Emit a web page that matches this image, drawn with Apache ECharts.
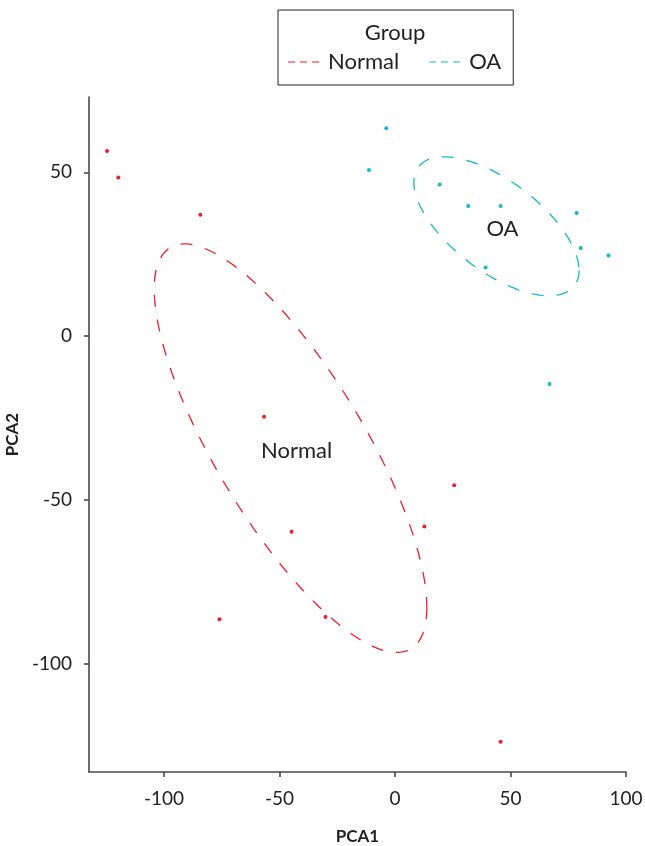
<!DOCTYPE html>
<html>
<head>
<meta charset="utf-8">
<script src="https://cdn.jsdelivr.net/npm/echarts@6/dist/echarts.min.js"></script>
<style>
  html, body { margin: 0; padding: 0; background: #fff; }
  #chart { width: 645px; height: 846px; }
</style>
</head>
<body>
<div id="chart"></div>
<script>
const groups = ['Normal', 'OA'];
const colors = ['#ee1c2e', '#14b8c8'];

// PCA scores
const normalX = [-124.7, -119.8, -84.3, -56.7, 25.6, 12.7, -44.8, -76.0, -30.1, 45.7];
const normalY = [56.5, 48.4, 37.1, -24.6, -45.5, -58.1, -59.7, -86.4, -85.7, -123.8];
const oaX = [-3.8, -11.3, 19.3, 31.7, 45.7, 78.6, 80.4, 92.4, 39.2, 66.9];
const oaY = [63.5, 50.7, 46.3, 39.7, 39.7, 37.6, 26.9, 24.6, 21.0, -14.6];

const xTicks = [-100, -50, 0, 50, 100];
const yTicks = [-100, -50, 0, 50];

const FONT = 'Lato';

const mean = a => a.reduce((s, v) => s + v, 0) / a.length;

// 1-sd covariance ellipse of a group
const ellipse = (xs, ys) => {
    const mx = mean(xs), my = mean(ys);
    let sxx = 0, syy = 0, sxy = 0;
    for (let i = 0; i < xs.length; i++) {
        sxx += (xs[i] - mx) ** 2;
        syy += (ys[i] - my) ** 2;
        sxy += (xs[i] - mx) * (ys[i] - my);
    }
    const n = xs.length - 1;
    const sx = Math.sqrt(sxx / n), sy = Math.sqrt(syy / n);
    const phi = Math.acos((sxy / n) / (sx * sy));
    const pts = [];
    for (let k = 0; k <= 180; k++) {
        const t = (k / 180) * 2 * Math.PI;
        pts.push([mx + sx * Math.cos(t), my + sy * Math.cos(t + phi)]);
    }
    return { center: [mx, my], pts };
};

const pairs = (xs, ys) => xs.map((x, i) => [x, ys[i]]);
const groupData = [pairs(normalX, normalY), pairs(oaX, oaY)];
const ells = [ellipse(normalX, normalY), ellipse(oaX, oaY)];

const dashIcon = 'path://M0,0H7V1.2H0Z M12,0H19V1.2H12Z M24,0H31V1.2H24Z';

const series = [];
groups.forEach((g, i) => {
    series.push({
        name: g,
        type: 'line',
        data: ells[i].pts,
        showSymbol: false,
        symbol: 'none',
        smooth: false,
        silent: true,
        lineStyle: { color: colors[i], width: 1.3, type: [12, 13] },
        itemStyle: { color: colors[i] },
        z: 2
    });
    series.push({
        name: g,
        type: 'scatter',
        data: groupData[i],
        symbolSize: 4,
        itemStyle: { color: colors[i], opacity: 1 },
        z: 3
    });
    // group name at the group centre
    series.push({
        name: g + ' label',
        type: 'scatter',
        data: [ells[i].center],
        symbolSize: 0,
        silent: true,
        itemStyle: { opacity: 1 },
        label: {
            show: true,
            position: 'inside',
            offset: [6, 3],
            formatter: g,
            fontFamily: FONT,
            fontSize: 22,
            color: '#222'
        }
    });
});

const axisLine = { show: true, onZero: false, lineStyle: { color: '#4a4a4a', width: 1.6 } };

const chart = echarts.init(document.getElementById('chart'));
chart.setOption({
    animation: false,
    backgroundColor: '#fff',
    grid: { left: 89, right: 19, top: 97, bottom: 74, containLabel: false, outerBoundsMode: 'none' },
    legend: {
        data: groups.map((g, i) => ({ name: g, icon: dashIcon, itemStyle: { color: colors[i] } })),
        left: 278,
        top: 10,
        orient: 'horizontal',
        itemWidth: 31,
        itemHeight: 14,
        itemGap: 30,
        padding: [41, 12, 12, 10],
        borderColor: '#222',
        borderWidth: 1,
        selectedMode: false,
        textStyle: { fontFamily: FONT, fontSize: 22, color: '#222', padding: [0, 0, 0, 4] }
    },
    graphic: [{
        type: 'text',
        x: 395,
        y: 33,
        style: {
            text: 'Group', fontFamily: FONT, fontSize: 22, fill: '#222',
            align: 'center', verticalAlign: 'middle'
        }
    }],
    xAxis: {
        type: 'value',
        min: -132.5,
        max: 100,
        name: 'PCA1',
        nameLocation: 'middle',
        nameGap: 56,
        nameTextStyle: { fontFamily: FONT, fontSize: 17, fontWeight: 'bold', color: '#222' },
        splitLine: { show: false },
        axisLine: axisLine,
        axisTick: { show: true, length: 5, customValues: xTicks, lineStyle: { color: '#4a4a4a', width: 1.6 } },
        axisLabel: { customValues: xTicks, margin: 17, fontFamily: FONT, fontSize: 19, color: '#222' }
    },
    yAxis: {
        type: 'value',
        min: -133,
        max: 73,
        name: 'PCA2',
        nameLocation: 'middle',
        nameGap: 56,
        nameTextStyle: { fontFamily: FONT, fontSize: 17, fontWeight: 'bold', color: '#222' },
        splitLine: { show: false },
        axisLine: axisLine,
        axisTick: { show: true, length: 5, customValues: yTicks, lineStyle: { color: '#4a4a4a', width: 1.6 } },
        axisLabel: { customValues: yTicks, margin: 17, fontFamily: FONT, fontSize: 19, color: '#222' }
    },
    series: series
});
</script>
</body>
</html>
